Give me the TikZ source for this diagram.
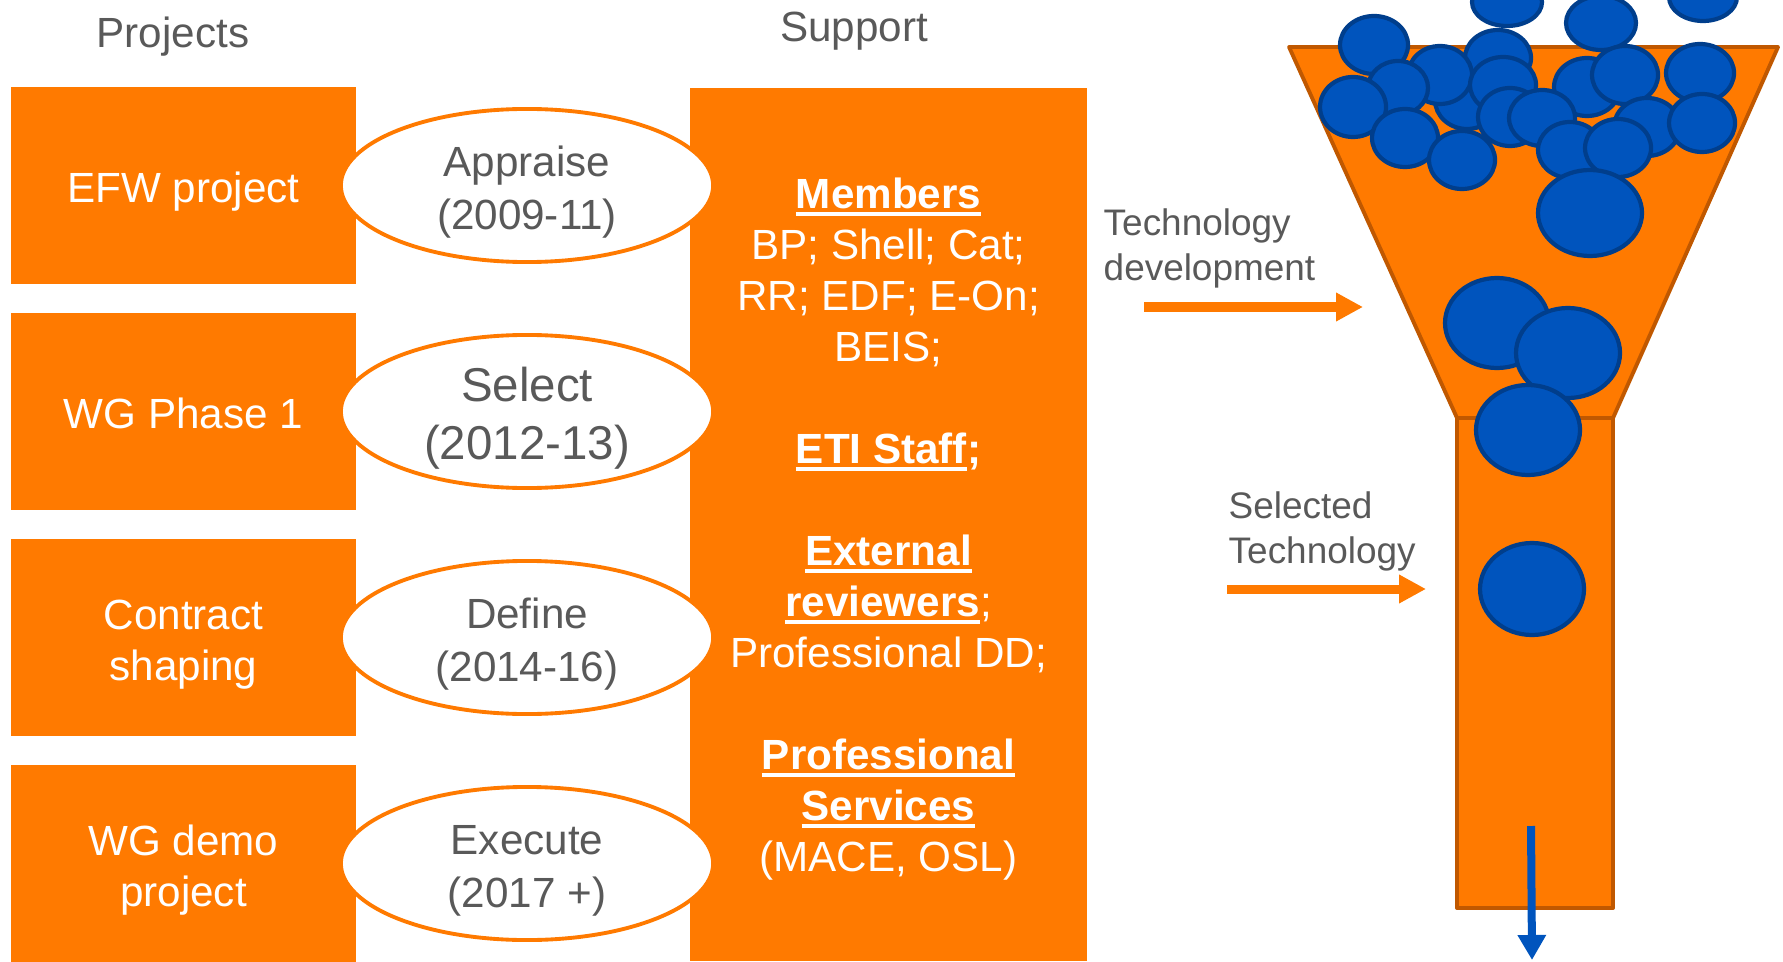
\documentclass[tikz,border=0pt]{standalone}
\usepackage{fontspec}
\setmainfont{Liberation Sans}
\usetikzlibrary{shapes.geometric,arrows.meta}
\definecolor{etiorange}{HTML}{FF7A00}
\definecolor{funneledge}{HTML}{C05800}
\definecolor{ballblue}{HTML}{0054BD}
\definecolor{balledge}{HTML}{003E8C}
\definecolor{labelgrey}{HTML}{595959}
\newsavebox{\headbox}
\newcommand{\ulhead}[1]{\sbox{\headbox}{\bfseries #1}\rlap{\raisebox{-2.1pt}{\rule{\wd\headbox}{1.1pt}}}\usebox{\headbox}}
\newcommand{\lift}{\rule{0pt}{0.82em}}

\begin{document}
\begin{tikzpicture}[x=0.01cm,y=-0.01cm,
  projbox/.style={rectangle,fill=etiorange,text=white,minimum width=3.45cm,minimum height=1.96cm,inner sep=0pt,align=center,text depth=0pt,font=\fontsize{12}{14.5}\selectfont},
  stage/.style={ellipse,draw=etiorange,line width=1.1pt,fill=white,text=labelgrey,minimum width=3.72cm,minimum height=1.53cm,inner sep=0pt,align=center,text depth=0pt,font=\fontsize{12}{15}\selectfont},
  caption/.style={text=labelgrey,font=\fontsize{12}{14.5}\selectfont},
  note/.style={text=labelgrey,align=left,anchor=west,inner sep=0pt,font=\fontsize{10.5}{12.8}\selectfont},
  flow/.style={etiorange,line width=0.09cm,-{Triangle[length=0.27cm,width=0.27cm]}},
  ball/.style={fill=ballblue,draw=balledge,line width=1.2pt},
  funnel/.style={fill=etiorange,draw=funneledge,line width=1.1pt,line join=round}]
\useasboundingbox (0,0) rectangle (1783,961);
\clip (0,0) rectangle (1783,961);

% column heads
\node[caption] (projects) at (173,37) {Projects};
\node[caption] (support) at (854,31) {Support};

% projects
\node[projbox] (efw) at (183.5,185.5) {\lift EFW project};
\node[projbox] (wgone) at (183.5,411.5) {\lift WG Phase 1};
\node[projbox] (shaping) at (183.5,637.5) {\lift Contract\\shaping};
\node[projbox] (wgdemo) at (183.5,863.5) {\lift WG demo\\project};

% support column
\node[projbox,minimum width=3.97cm,minimum height=8.73cm] (supportbox) at (888.5,524.5)
  {\ulhead{Members}\\ BP; Shell; Cat;\\ RR; EDF; E-On;\\ BEIS;\\[14.5pt]
   \ulhead{ETI Staff}\textbf{;}\\[14.5pt]
   \ulhead{External}\\ \ulhead{reviewers};\\ Professional DD;\\[14.5pt]
   \ulhead{Professional}\\ \ulhead{Services}\\ (MACE, OSL)};

% stages
\node[stage] (appraise) at (527,185.5) {\lift Appraise\\(2009-11)};
\node[stage,font=\fontsize{13.5}{16.5}\selectfont] (select) at (527,411.5) {\lift Select\\(2012-13)};
\node[stage] (define) at (527,637.5) {\lift Define\\(2014-16)};
\node[stage] (execute) at (527,863.5) {\lift Execute\\(2017 +)};

% funnel
\draw[funnel] (1289,47) -- (1778,47) -- (1613,418) -- (1457,418) -- cycle;
\draw[funnel] (1457,418) rectangle (1613,908);

\foreach \bx/\by/\rx/\ry in {1507/2/35/24, 1601/23/35/27, 1703/-3/34/24,
    1374/45/34/29, 1467/100/32/29, 1498/58/33/28, 1440/75/32/29, 1503/85/33/28,
    1398/88/30/27, 1353/107/33/30, 1587/87/33/29, 1625/75/33/29, 1700/73/34/29,
    1405/138/33/29, 1462/160/33/29, 1510/117/32/29, 1542/118/33/28,
    1647/127/33/29, 1702/123/33/29, 1570/150/32/28, 1618/148/33/29,
    1590/213/52/43, 1497/323/52/45, 1568/353/52/45, 1528/430/52/45, 1532/589/52/46}
  \draw[ball] (\bx,\by) ellipse [x radius=\rx, y radius=\ry];

% labels and arrows
\node[note] (devlabel) at (1103,248) {Technology\\development};
\node[note] (sellabel) at (1228,531) {Selected\\Technology};
\coordinate (devtail) at (1144,307);
\coordinate (devtip) at (1363,307);
\coordinate (seltail) at (1227,589);
\coordinate (seltip) at (1426,589);
\coordinate (outtail) at (1531,826);
\coordinate (outtip) at (1532,960);
\draw[flow] (devtail) -- (devtip);
\draw[flow] (seltail) -- (seltip);
\draw[ballblue,line width=0.08cm,-{Triangle[length=0.25cm,width=0.27cm]}] (outtail) -- (outtip);
\end{tikzpicture}
\end{document}
